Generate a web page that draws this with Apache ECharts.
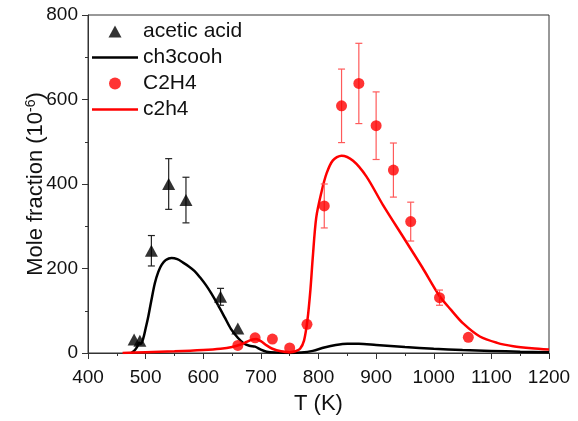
<!DOCTYPE html>
<html><head><meta charset="utf-8">
<script src="https://cdn.jsdelivr.net/npm/echarts@6/dist/echarts.min.js"></script>
<style>html,body{margin:0;padding:0;background:#fff}#c{width:578px;height:421px}</style>
</head><body><div id="c"></div>
<script>
// Measured acetic acid
const aceticT = [480, 490, 510, 540, 570, 630, 660];
const aceticY = [32, 29, 242, 400, 362, 133, 58];
const aceticErr = [0, 0, 36, 60, 54, 20, 0];
// Measured C2H4
const c2h4T = [660, 690, 720, 750, 780, 810, 840, 870, 900, 930, 960, 1010, 1060];
const c2h4Y = [18, 36, 33, 12, 68, 348, 585, 638, 538, 433, 311, 131, 37];
const c2h4Err = [0, 0, 0, 0, 0, 52, 87, 95, 80, 64, 46, 18, 0];
// Model ch3cooh
const modelAcT = [475, 480, 485, 489, 492, 496, 500, 504, 510, 516, 522, 528, 535, 545, 555, 565, 575, 585, 595, 605, 614, 625, 637, 648, 660, 670, 680, 690, 700, 710, 725, 750, 770, 790, 810, 830, 850, 870, 900, 950, 1000, 1050, 1100, 1150, 1200];
const modelAcY = [0, 5, 14, 24, 22, 35, 58, 82, 125, 165, 192, 209, 220, 225, 222, 214, 205, 194, 178, 160, 141, 115, 85, 57, 36, 23, 17, 15, 8, 3, 1, 0, 1, 5, 13, 19, 22, 22, 19, 14, 10, 7, 5, 3, 2];
// Model c2h4
const modelEtT = [460, 500, 550, 600, 630, 650, 665, 675, 685, 692, 700, 710, 720, 735, 750, 760, 768, 775, 781, 786, 790, 796, 805, 814, 825, 840, 860, 883, 912, 950, 980, 1010, 1030, 1051, 1080, 1110, 1138, 1170, 1200];
const modelEtY = [0, 2, 4, 7, 10, 14, 20, 26, 32, 33, 28, 18, 10, 4, 2, 4, 10, 30, 80, 150, 225, 320, 380, 425, 456, 467, 455, 418, 350, 268, 203, 135, 102, 70, 39, 24, 16, 11, 8];
// Axis ticks
const xTicks = [400, 500, 600, 700, 800, 900, 1000, 1100, 1200];
const yTicks = [0, 200, 400, 600, 800];

const zip = (a, b) => a.map((v, i) => [v, b[i]]);
const errData = (t, y, e) => t.map((v, i) => [v, y[i] - e[i], y[i] + e[i]]).filter((d, i) => e[i] > 0);

function errRender(color) {
  return function (params, api) {
    const x = api.value(0), lo = api.value(1), hi = api.value(2);
    const p1 = api.coord([x, hi]), p2 = api.coord([x, lo]);
    const w = 3.5;
    const st = { stroke: color, lineWidth: 1.2 };
    return { type: 'group', children: [
      { type: 'line', shape: { x1: p1[0], y1: p1[1], x2: p2[0], y2: p2[1] }, style: st },
      { type: 'line', shape: { x1: p1[0] - w, y1: p1[1], x2: p1[0] + w, y2: p1[1] }, style: st },
      { type: 'line', shape: { x1: p2[0] - w, y1: p2[1], x2: p2[0] + w, y2: p2[1] }, style: st }
    ]};
  };
}

const font = 'Liberation Sans, Arial, sans-serif';
const linePath = 'path://M0,0H46V2.5H0Z';
const triPath = 'path://M6.5,0L13,12H0Z';
const chart = echarts.init(document.getElementById('c'), null, { renderer: 'canvas' });
chart.setOption({
  animation: false,
  backgroundColor: '#fff',
  grid: { left: 88, right: 29, top: 15, bottom: 68, show: true, borderColor: '#333', borderWidth: 1, backgroundColor: 'transparent' },
  legend: {
    orient: 'vertical', left: 92, top: 21, padding: 0, itemWidth: 46, itemHeight: 12, itemGap: 5,
    symbolKeepAspect: true,
    textStyle: { fontFamily: font, fontSize: 21, color: '#111' },
    data: [
      { name: 'acetic acid', icon: triPath },
      { name: 'ch3cooh', icon: linePath },
      { name: 'C2H4', icon: 'circle' },
      { name: 'c2h4', icon: linePath }
    ]
  },
  xAxis: {
    type: 'value', min: xTicks[0], max: xTicks[xTicks.length - 1], interval: 100,
    name: 'T (K)', nameLocation: 'middle', nameGap: 40, nameMoveOverlap: false,
    nameTextStyle: { fontFamily: font, fontSize: 22, color: '#111' },
    axisLine: { lineStyle: { color: '#333', width: 1 } },
    axisTick: { inside: false, length: 6, lineStyle: { color: '#333' } },
    minorTick: { show: true, splitNumber: 2, length: 3, lineStyle: { color: '#333' } },
    splitLine: { show: false },
    axisLabel: { fontFamily: font, fontSize: 19, color: '#111', margin: 15, formatter: v => String(v) }
  },
  yAxis: {
    type: 'value', min: yTicks[0], max: yTicks[yTicks.length - 1], interval: 200,
    name: 'Mole fraction (10{sup|-6})', nameLocation: 'middle', nameGap: 40, nameRotate: 90, nameMoveOverlap: false,
    nameTextStyle: { fontFamily: font, fontSize: 22, color: '#111',
      rich: { sup: { fontFamily: font, fontSize: 14, color: '#111', verticalAlign: 'top', padding: [0, 0, 10, 0] } } },
    axisLine: { show: true, lineStyle: { color: '#333', width: 1 } },
    axisTick: { show: true, inside: false, length: 6, lineStyle: { color: '#333' } },
    minorTick: { show: true, splitNumber: 2, length: 3, lineStyle: { color: '#333' } },
    splitLine: { show: false },
    axisLabel: { fontFamily: font, fontSize: 19, color: '#111', margin: 10, formatter: v => String(v) }
  },
  series: [
    { name: 'ch3cooh', type: 'line', data: zip(modelAcT, modelAcY), symbol: 'none', smooth: 0.3,
      lineStyle: { color: '#000', width: 2.5 }, itemStyle: { color: '#000' }, z: 2 },
    { name: 'c2h4', type: 'line', data: zip(modelEtT, modelEtY), symbol: 'none', smooth: 0.3,
      lineStyle: { color: '#ff0000', width: 2.5 }, itemStyle: { color: '#ff0000' }, z: 3 },
    { type: 'custom', renderItem: errRender('#222'), data: errData(aceticT, aceticY, aceticErr),
      encode: { x: 0, y: [1, 2] }, z: 4, silent: true },
    { type: 'custom', renderItem: errRender('#ff5a5a'), data: errData(c2h4T, c2h4Y, c2h4Err),
      encode: { x: 0, y: [1, 2] }, z: 4, silent: true },
    { name: 'acetic acid', type: 'scatter', data: zip(aceticT, aceticY), symbol: 'triangle', symbolSize: [13, 12],
      itemStyle: { color: '#000' }, z: 5 },
    { name: 'C2H4', type: 'scatter', data: zip(c2h4T, c2h4Y), symbol: 'circle', symbolSize: 11,
      itemStyle: { color: '#ff0000' }, z: 5 }
  ]
});
</script>
</body></html>
